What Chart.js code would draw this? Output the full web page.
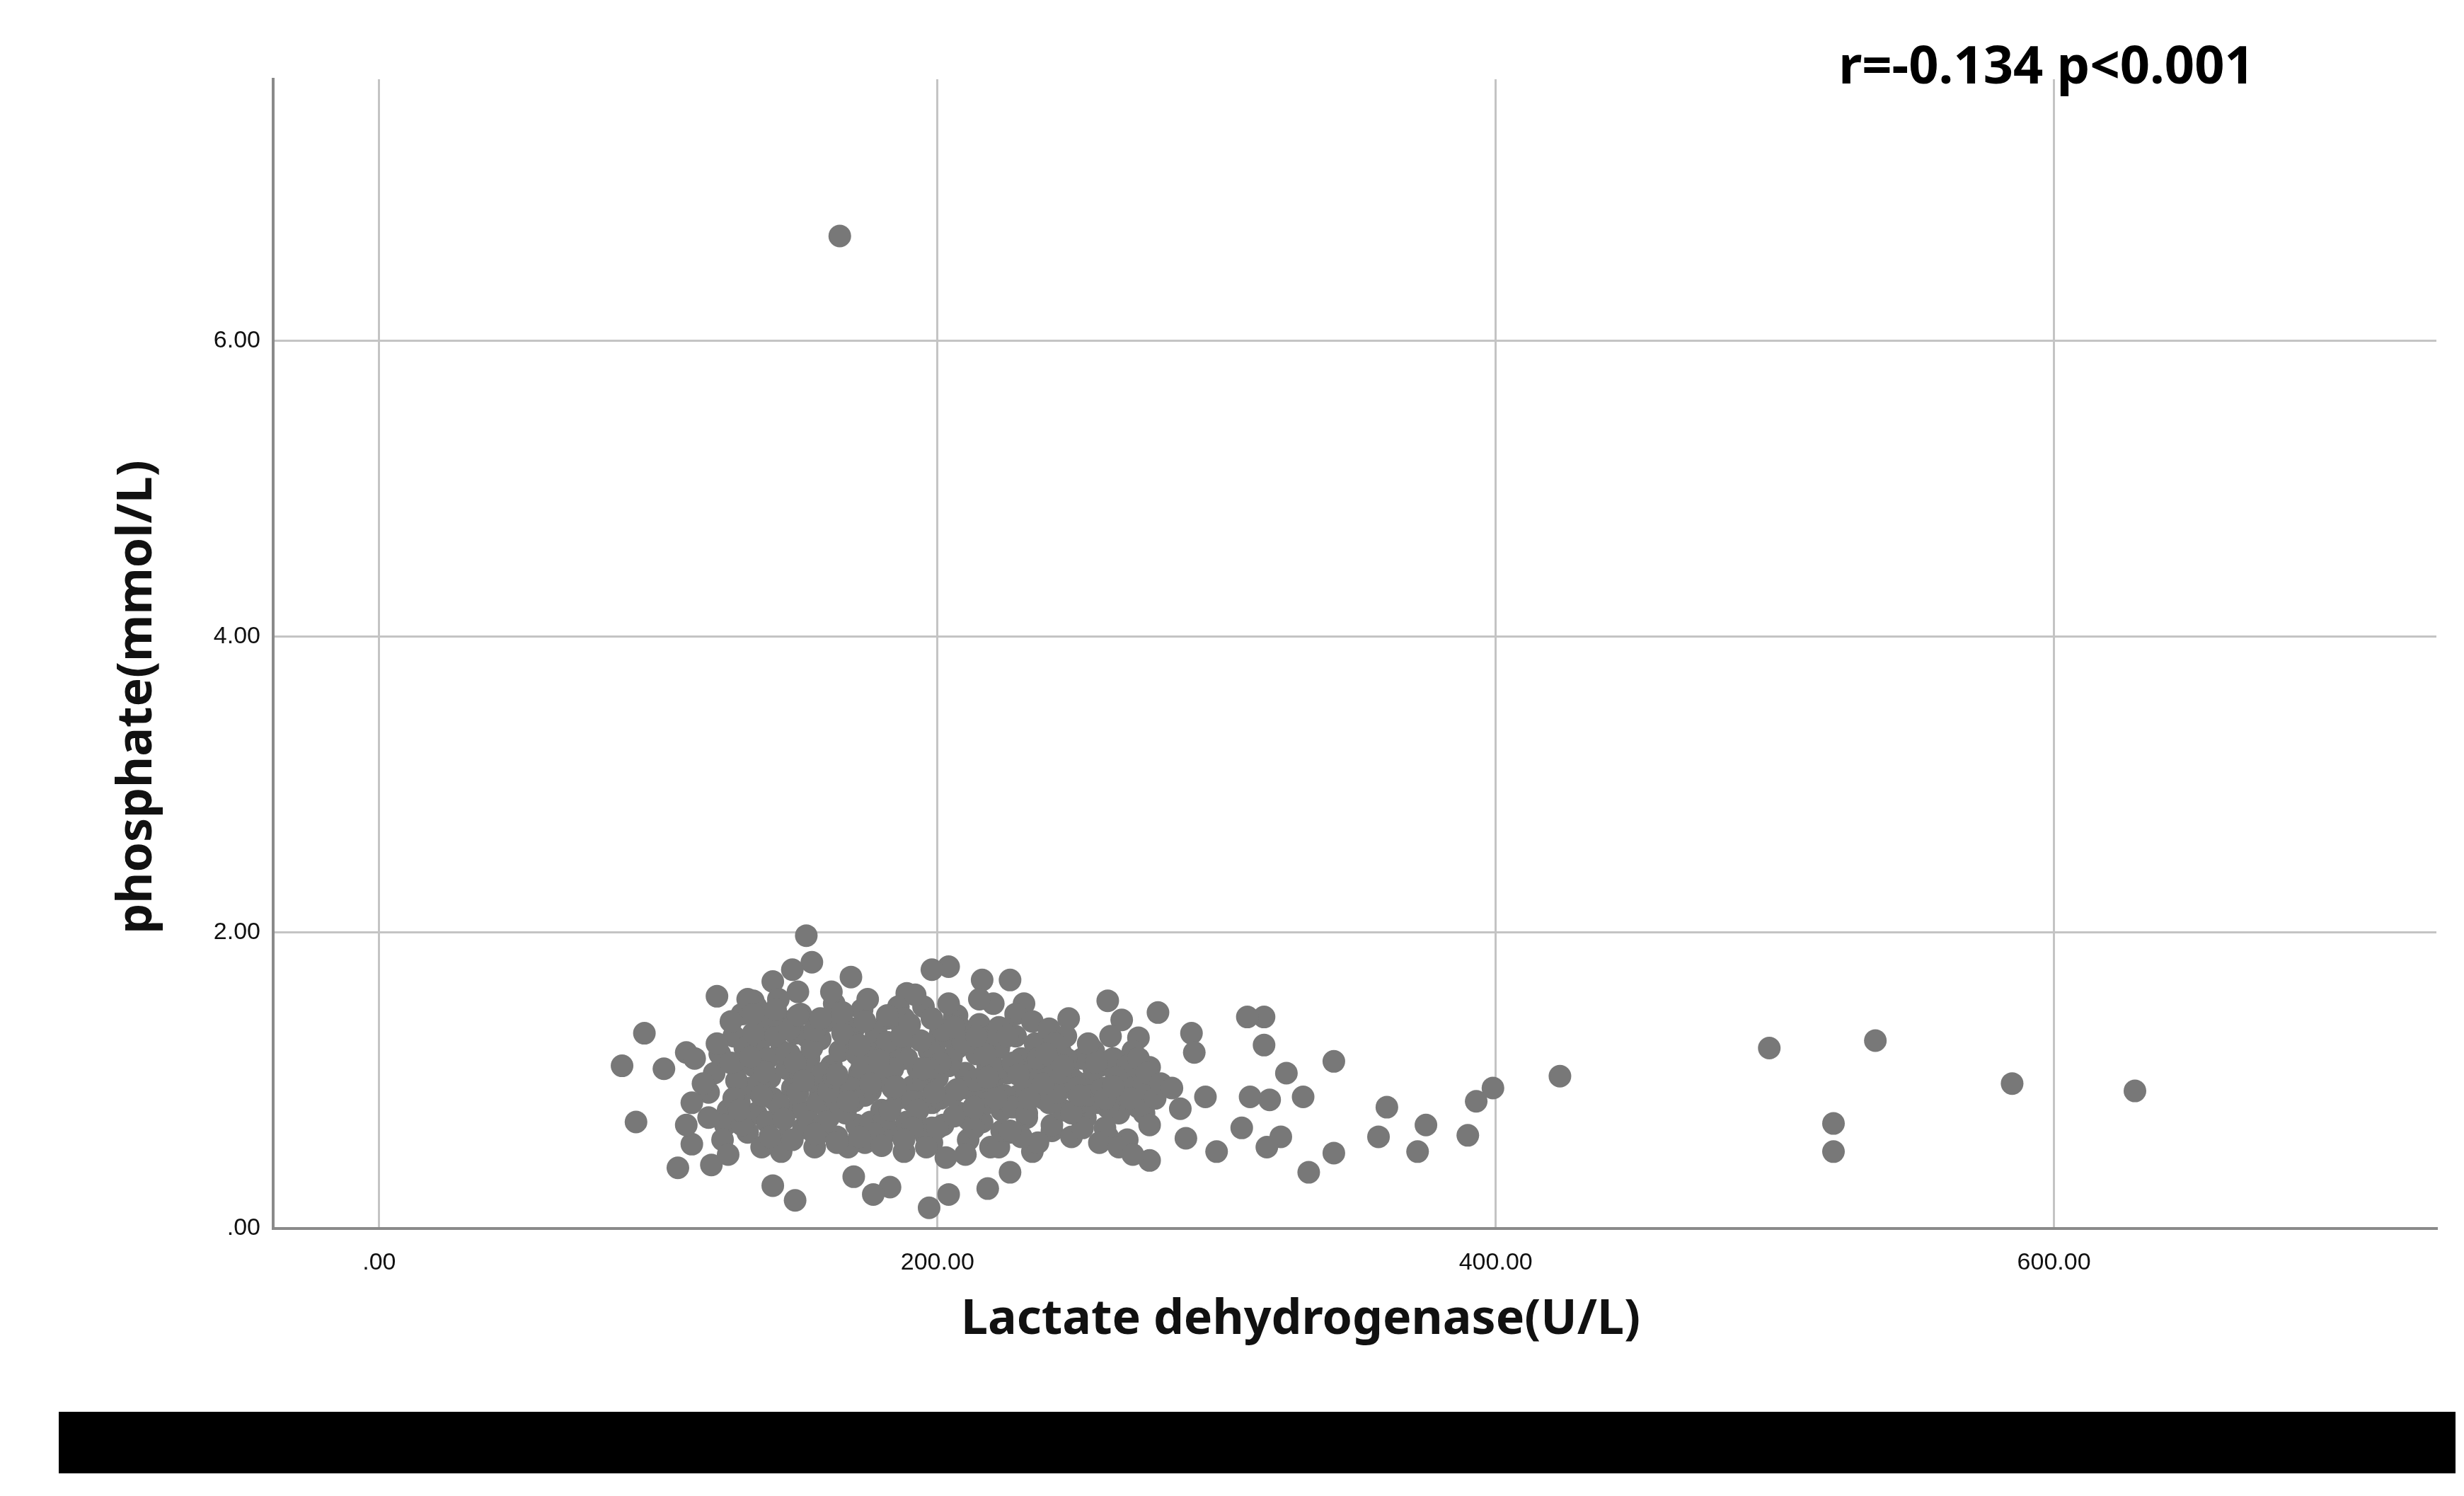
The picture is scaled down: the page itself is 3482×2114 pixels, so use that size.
<!DOCTYPE html>
<html>
<head>
<meta charset="utf-8">
<script src="https://cdn.jsdelivr.net/npm/chart.js@4"></script>
<style>
  html, body { margin: 0; padding: 0; background: #fff; }
  #wrap { position: relative; width: 3482px; height: 2114px; }
  #bar { position: absolute; left: 83px; top: 1995px; width: 3387px; height: 87px; background: #000; }
</style>
</head>
<body>
<div id="wrap">
  <canvas id="c" width="3482" height="2114"></canvas>
  <div id="bar"></div>
</div>
<script>
const xTicks = [0, 200, 400, 600];
const yTicks = [0, 2, 4, 6];
const xTitle = "Lactate dehydrogenase(U/L)";
const yTitle = "phosphate(mmol/L)";
const statText = "r=-0.134 p<0.001";

// LDH (U/L) and phosphate (mmol/L)
const ldh = [
  165, 498, 536, 585, 629, 521, 521, 423, 399, 393, 390, 375, 372, 361, 358, 342, 342, 333, 331, 325,
  317, 311, 317, 319, 323, 318, 312, 309, 300, 296, 291, 292, 289, 287, 279, 276, 272, 274, 276, 261,
  266, 261, 255, 247, 240, 226, 216, 204, 198, 206, 220, 231, 241, 234, 226, 218, 204, 197, 183, 177,
  170, 149, 141, 112, 107, 119, 92, 87, 95, 102, 110, 153, 155, 148, 169, 121, 134, 141, 189,
  120, 118, 122, 125, 127, 124, 130, 131, 133, 135, 132, 136, 138, 140, 141, 139, 143, 144, 146, 145,
  148, 149, 150, 151, 152, 154, 155, 156, 157, 158, 160, 161, 162, 163, 164, 166, 167, 168, 170, 171,
  172, 173, 174, 176, 177, 178, 180, 181, 182, 183, 185, 186, 187, 188, 190, 191, 192, 193, 195, 196,
  197, 198, 200, 201, 202, 203, 205, 206, 207, 208, 210, 211, 212, 214, 215, 216, 218, 219, 220, 222,
  223, 225, 226, 228, 229, 230, 232, 233, 235, 236, 238, 239, 241, 242, 244, 245, 247, 248, 250, 252,
  253, 255, 257, 258, 260, 262, 264, 265, 267, 268, 270, 272, 274, 276, 278,
  128, 129, 134, 137, 142, 147, 153, 159, 165, 169, 175, 179, 184, 189, 194, 199, 204, 209, 213, 217,
  221, 224, 227, 231, 234, 237, 240, 243, 246, 249, 251, 254, 256, 259, 261, 263, 266, 269,
  123, 126, 135, 140, 144, 150, 158, 162, 168, 175, 180, 186, 192, 198, 204, 210, 215, 222, 228, 234,
  240, 246, 252, 258, 262, 270, 118, 121, 116, 113, 112, 110, 125, 132, 137, 146, 153, 157, 163, 171,
  176, 183, 189, 195, 201, 207, 213, 218, 224, 230, 236, 242, 248, 254, 268, 272, 275, 265, 280, 284, 270,
  127, 131, 136, 139, 144, 147, 151, 154, 158, 161, 164, 167, 171, 174, 178, 181, 184, 187, 191, 194,
  198, 201, 205, 208, 212, 216, 219, 223, 227, 232, 126, 130, 134, 138, 143, 146, 150, 155, 159, 163,
  166, 170, 173, 177, 182, 185, 188, 193, 197, 200, 203, 207, 211, 214, 218, 222, 226, 229, 233, 238,
  129, 133, 137, 141, 145, 149, 152, 156, 160, 164, 168, 172, 176, 179, 183, 187, 191, 195, 199, 202,
  206, 209, 213, 217, 221, 225, 244, 250, 256, 260, 264, 239, 245, 251, 257, 263, 134, 142, 150, 158,
  166, 174, 182, 190, 198, 206, 214, 140, 148, 156, 164, 172, 180, 188, 196
];
const phos = [
  6.71, 1.22, 1.27, 0.98, 0.93, 0.71, 0.52, 1.03, 0.95, 0.86, 0.63, 0.70, 0.52, 0.82, 0.62, 1.13, 0.51, 0.38, 0.89, 1.05,
  1.43, 1.43, 1.24, 0.87, 0.62, 0.55, 0.89, 0.68, 0.52, 0.89, 1.32, 1.19, 0.61, 0.81, 1.46, 1.09, 1.29, 0.78, 0.46, 1.54,
  1.41, 0.62, 1.22, 1.42, 1.32, 1.68, 1.68, 1.77, 1.75, 1.43, 1.52, 1.52, 0.66, 0.52, 0.38, 0.27, 0.23, 0.14, 0.28, 0.23,
  0.35, 0.19, 0.29, 0.57, 0.41, 0.43, 0.72, 1.10, 1.32, 1.08, 1.19, 1.98, 1.80, 1.75, 1.70, 1.57, 1.54, 1.67, 1.59,
  1.05, 0.92, 1.18, 0.80, 1.30, 0.70, 1.45, 1.12, 0.95, 0.78, 0.65, 1.25, 1.38, 1.02, 0.88, 0.72, 1.55, 1.20, 1.08, 0.60,
  0.95, 1.32, 0.82, 1.45, 0.68, 1.15, 1.00, 0.55, 1.28, 0.90, 1.40, 0.75, 1.10, 1.52, 0.62, 0.98, 1.22, 0.84, 1.35, 0.70,
  1.05, 1.48, 0.58, 0.93, 1.18, 1.30, 0.80, 1.00, 1.42, 0.66, 1.12, 0.88, 1.25, 0.52, 1.38, 0.96, 0.74, 1.08, 1.50, 0.62,
  1.20, 0.85, 1.02, 1.32, 0.70, 0.48, 1.15, 0.92, 1.44, 0.78, 1.05, 0.60, 1.25, 0.88, 1.38, 0.72, 1.10, 0.55, 0.95, 1.22,
  0.80, 1.05, 0.65, 1.30, 0.90, 1.15, 0.75, 1.00, 1.25, 0.58, 0.88, 1.12, 0.70, 0.98, 1.20, 0.80, 1.05, 0.62, 0.92, 1.15,
  0.75, 1.00, 0.85, 1.10, 0.68, 0.95, 1.05, 0.78, 0.90, 0.60, 1.00, 0.82, 0.95, 0.70, 0.88,
  1.00, 0.85, 1.10, 0.90, 1.30, 1.18, 0.78, 1.05, 1.20, 0.95, 1.12, 1.05, 0.95, 1.15, 0.85, 1.20, 1.10, 0.95, 1.00, 1.20,
  1.08, 0.90, 0.82, 1.05, 0.95, 1.02, 0.85, 0.92, 1.15, 1.00, 0.85, 0.90, 1.20, 0.95, 0.82, 1.15, 1.00, 0.88,
  0.60, 1.40, 1.50, 0.60, 0.52, 1.60, 0.65, 1.60, 0.55, 1.55, 0.62, 1.50, 1.58, 0.58, 1.52, 0.50, 1.55, 0.55, 1.45, 1.40,
  1.35, 1.30, 0.68, 0.58, 1.30, 1.20, 0.75, 1.25, 0.98, 1.15, 0.85, 0.70, 0.50, 1.55, 0.55, 1.40, 1.30, 0.85, 0.88, 1.25,
  0.72, 1.22, 0.72, 1.00, 0.88, 1.22, 0.68, 0.85, 1.35, 0.62, 1.15, 1.25, 0.78, 1.25, 1.10, 1.15, 1.05, 0.55, 0.98, 0.95, 0.50,
  0.88, 1.22, 0.98, 1.15, 0.82, 1.35, 1.05, 0.72, 1.28, 0.93, 1.42, 0.78, 1.18, 0.90, 1.33, 0.74, 1.08, 1.38, 0.86, 1.27,
  0.68, 1.12, 0.90, 1.36, 0.76, 1.02, 1.30, 0.66, 1.12, 0.78, 1.12, 0.70, 1.32, 1.06, 0.84, 1.18, 0.92, 1.22, 0.70, 1.02,
  1.32, 0.86, 1.10, 0.64, 1.26, 0.96, 1.42, 0.80, 1.08, 0.68, 1.30, 0.94, 0.74, 1.18, 1.02, 1.36, 0.66, 1.04, 0.88, 0.98,
  0.80, 1.16, 0.90, 1.44, 0.74, 1.12, 1.00, 1.34, 0.72, 1.04, 0.86, 1.24, 0.98, 1.14, 0.80, 1.30, 0.68, 1.08, 0.92, 1.34,
  0.76, 1.26, 0.82, 1.18, 0.88, 1.30, 1.05, 0.95, 1.08, 0.88, 1.02, 1.18, 1.10, 0.90, 1.12, 0.96, 1.45, 1.48, 1.44, 1.42,
  1.46, 1.40, 1.44, 1.38, 1.42, 1.36, 1.30, 0.62, 0.60, 0.64, 0.58, 0.62, 0.56, 0.60, 0.55
];

const points = ldh.map((x, i) => ({ x, y: phos[i] }));

const fmt = (v) => (v === 0 ? ".00" : v.toFixed(2));

const textPlugin = {
  id: "texts",
  afterDraw(chart) {
    const { ctx } = chart;
    ctx.save();
    ctx.fillStyle = "#111";
    ctx.textAlign = "center";
    ctx.textBaseline = "middle";
    ctx.font = "bold 68px 'Noto Sans'";
    ctx.fillText(xTitle, 1838, 1866);
    ctx.translate(195, 985);
    ctx.rotate(-Math.PI / 2);
    ctx.fillText(yTitle, 0, 0);
    ctx.restore();
    ctx.save();
    ctx.fillStyle = "#000";
    ctx.font = "bold 74px 'Noto Sans'";
    ctx.textAlign = "center";
    ctx.textBaseline = "middle";
    ctx.fillText(statText, 2892, 97);
    ctx.restore();
  },
};

new Chart(document.getElementById("c"), {
  type: "scatter",
  data: {
    datasets: [{
      data: points,
      backgroundColor: "#787878",
      borderColor: "#787878",
      pointRadius: 16,
      pointHoverRadius: 16,
      borderWidth: 0,
    }],
  },
  options: {
    responsive: false,
    animation: false,
    layout: { padding: { left: 0, top: 112, right: 39, bottom: 0 } },
    plugins: { legend: { display: false }, tooltip: { enabled: false } },
    scales: {
      x: {
        type: "linear",
        min: -38,
        max: 737,
        afterBuildTicks: (s) => { s.ticks = xTicks.map((v) => ({ value: v })); },
        afterFit: (s) => { s.height = 378; },
        ticks: { callback: fmt, color: "#111", padding: 28, maxRotation: 0,
          font: { family: "'Liberation Sans Narrow', 'Liberation Sans'", size: 34 } },
        grid: { color: "#c4c4c4", lineWidth: 3, drawTicks: false },
        border: { color: "#8a8a8a", width: 4 },
      },
      y: {
        type: "linear",
        min: 0,
        max: 7.77,
        afterBuildTicks: (s) => { s.ticks = yTicks.map((v) => ({ value: v })); },
        afterFit: (s) => { s.width = 386; },
        ticks: { callback: fmt, color: "#111", padding: 18,
          font: { family: "'Liberation Sans Narrow', 'Liberation Sans'", size: 34 } },
        grid: { color: "#c4c4c4", lineWidth: 3, drawTicks: false },
        border: { color: "#8a8a8a", width: 4 },
      },
    },
  },
  plugins: [textPlugin],
});
</script>
</body>
</html>
